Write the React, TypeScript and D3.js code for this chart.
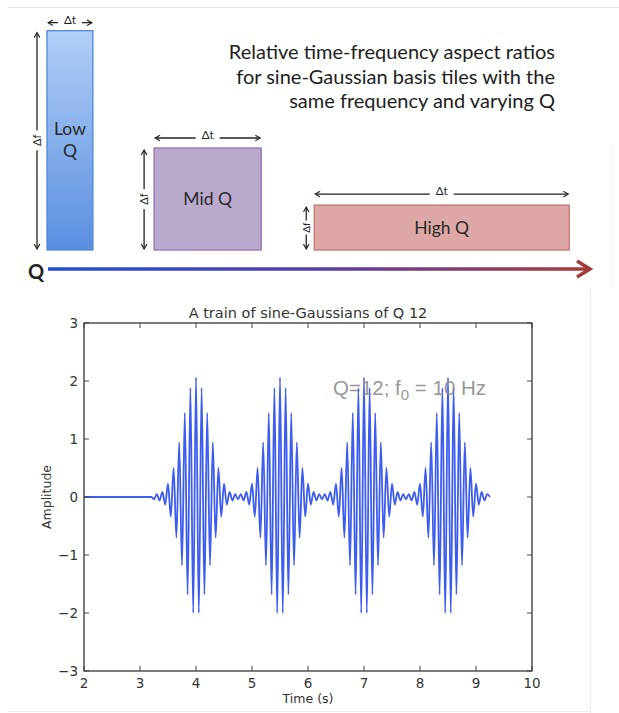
import * as d3 from 'd3';

// top schematic: three tiles with same area, different shape
const tileLabels = [['Low', 'Q'], ['Mid Q'], ['High Q']];
const tileStart = [0, 1.05, 2.62];
const tileDt = [0.45, 1.05, 2.5];
const tileDf = [2.15, 1.0, 0.44];
const tileFill = ['url(#lowGrad)', '#b9a9cd', '#dca7a5'];
const tileStroke = ['#4f86dc', '#9570b0', '#c27470'];

const headerLines = [
  'Relative time-frequency aspect ratios',
  'for sine-Gaussian basis tiles with the',
  'same frequency and varying Q',
];

// bottom plot: one burst (extremum per half cycle), repeated at each centre
const burstCenters = [4.0, 5.5, 7.0, 8.5];
const halfCycleOffsets = [
  -0.75, -0.7, -0.65, -0.6, -0.55, -0.5, -0.45, -0.4, -0.35, -0.3, -0.25, -0.2, -0.15, -0.1, -0.05,
  0, 0.05, 0.1, 0.15, 0.2, 0.25, 0.3, 0.35, 0.4, 0.45, 0.5, 0.55, 0.6, 0.65, 0.7,
];
const burstPeaks = [
  -0.04, 0.05, -0.06, 0.09, -0.13, 0.23, -0.34, 0.5, -0.7, 0.94, -1.18, 1.45, -1.68, 1.88, -2.0,
  2.06, -2.0, 1.88, -1.68, 1.45, -1.18, 0.94, -0.7, 0.5, -0.34, 0.23, -0.13, 0.09, -0.06, 0.05,
];
const leadIn = [{ t: 2.0, v: 0 }, { t: 3.2, v: 0 }];
const tailOut = [{ t: 9.25, v: 0 }];

const xTicks = [2, 3, 4, 5, 6, 7, 8, 9, 10];
const yTicks = [-3, -2, -1, 0, 1, 2, 3];

const W = 619;
const H = 713;
const calibri = 'Lato, "Open Sans", sans-serif';
const mpl = '"DejaVu Sans", sans-serif';

function Arrow({ x1, y1, x2, y2 }: { x1: number; y1: number; x2: number; y2: number }) {
  return (
    <line x1={x1} y1={y1} x2={x2} y2={y2} stroke="#222" strokeWidth={1.3}
      markerStart="url(#chev)" markerEnd="url(#chev)" />
  );
}

function Schematic() {
  const u = d3.scaleLinear().domain([0, 1]).range([47, 149]);
  const px = (d: number) => u(d) - u(0);
  const base = 250;
  const dtGap = [8, 10, 11];

  return (
    <g>
      {tileLabels.map((lab, i) => {
        const x0 = u(tileStart[i]);
        const w = px(tileDt[i]);
        const h = px(tileDf[i]);
        const top = base - h;
        const cx = x0 + w / 2;
        const small = i === 2;
        const ay = top - dtGap[i];
        return (
          <g key={i}>
            <rect x={x0} y={top} width={w} height={h} fill={tileFill[i]} stroke={tileStroke[i]} strokeWidth={1.3} />
            {lab.map((s, j) => (
              <text key={j} x={cx} y={top + h / 2 + (j - (lab.length - 1) / 2) * 22 + 6}
                textAnchor="middle" fontFamily={calibri} fontSize={17.5} fill="#2a2a2a">{s}</text>
            ))}
            {/* Δt arrow above */}
            <Arrow x1={x0 + 1} y1={ay} x2={x0 + w - 1} y2={ay} />
            <rect x={cx - 12} y={ay - 8} width={24} height={14} fill="#fff" />
            <text x={cx} y={ay + 1} textAnchor="middle" fontFamily={calibri} fontSize={11.5} fill="#222">Δt</text>
            {/* Δf arrow left */}
            <Arrow x1={x0 - (small ? 8 : 10)} y1={top + 2} x2={x0 - (small ? 8 : 10)} y2={base - 1} />
            <rect x={x0 - (small ? 14 : 17)} y={top + h / 2 - (small ? 7 : 10)} width={small ? 12 : 14}
              height={small ? 14 : 20} fill="#fff" />
            <text transform={`translate(${x0 - (small ? 4.5 : 6)},${top + h / 2}) rotate(-90)`}
              textAnchor="middle" fontFamily={calibri} fontSize={small ? 10 : 11} fill="#222">Δf</text>
          </g>
        );
      })}

      {headerLines.map((s, i) => (
        <text key={i} x={555} y={59 + i * 24.5} textAnchor="end" fontFamily={calibri} fontSize={20} fill="#1e1e1e">{s}</text>
      ))}

      {/* Q axis */}
      <text x={36} y={279} textAnchor="middle" fontFamily={calibri} fontWeight={700} fontSize={20} fill="#222">Q</text>
      <line x1={48} y1={269} x2={588} y2={269} stroke="url(#qGrad)" strokeWidth={3.5} />
      <path d="M577,261 L590,269 L577,277" fill="none" stroke="#a33a3a" strokeWidth={3.5} />
    </g>
  );
}

function TrainPlot() {
  const x = d3.scaleLinear().domain([2, 10]).range([84, 532]);
  const y = d3.scaleLinear().domain([-3, 3]).range([671, 323]);

  const pts = [
    ...leadIn,
    ...burstCenters.flatMap((c) => halfCycleOffsets.map((o, k) => ({ t: c + o, v: burstPeaks[k] }))),
    ...tailOut,
  ];
  const line = d3.line<{ t: number; v: number }>()
    .x((d) => x(d.t)).y((d) => y(d.v))
    .curve(d3.curveMonotoneX);

  const [x0, x1] = x.range();
  const [yb, yt] = y.range();
  const tl = 5;

  return (
    <g>
      <text x={(x0 + x1) / 2} y={318} textAnchor="middle" fontFamily={mpl} fontSize={14.5} fill="#333">
        A train of sine-Gaussians of Q 12
      </text>

      <path d={line(pts) ?? ''} fill="none" stroke="#3d5cf0" strokeWidth={1.8} />

      <text x={333} y={395} fontFamily='"Liberation Sans", Arial, sans-serif' fontSize={20.5} fill="#8a8a8a"
        fillOpacity={0.9}>
        Q=12; f<tspan fontSize={15} dy={5}>0</tspan><tspan dy={-5}> = 10 Hz</tspan>
      </text>

      <rect x={x0} y={yt} width={x1 - x0} height={yb - yt} fill="none" stroke="#444" strokeWidth={1.4} />

      {xTicks.map((t) => (
        <g key={`x${t}`}>
          <line x1={x(t)} x2={x(t)} y1={yb} y2={yb - tl} stroke="#444" />
          <line x1={x(t)} x2={x(t)} y1={yt} y2={yt + tl} stroke="#444" />
          <text x={x(t)} y={688} textAnchor="middle" fontFamily={mpl} fontSize={13.5} fill="#333">{t}</text>
        </g>
      ))}
      {yTicks.map((t) => (
        <g key={`y${t}`}>
          <line x1={x0} x2={x0 + tl} y1={y(t)} y2={y(t)} stroke="#444" />
          <line x1={x1} x2={x1 - tl} y1={y(t)} y2={y(t)} stroke="#444" />
          <text x={78} y={y(t) + 5} textAnchor="end" fontFamily={mpl} fontSize={13.5} fill="#333">
            {t < 0 ? `\u2212${-t}` : t}
          </text>
        </g>
      ))}

      <text x={(x0 + x1) / 2} y={703} textAnchor="middle" fontFamily={mpl} fontSize={12.5} fill="#333">Time (s)</text>
      <text transform={`translate(51,${y(0)}) rotate(-90)`} textAnchor="middle" fontFamily={mpl} fontSize={12.5}
        fill="#333">Amplitude</text>
    </g>
  );
}

export default function App() {
  return (
    <div style={{ position: 'absolute', left: 0, top: 0 }}>
      <svg width={W} height={H} style={{ display: 'block', background: '#fff' }}>
        <defs>
          <linearGradient id="lowGrad" x1="0" y1="0" x2="0" y2="1">
            <stop offset="0%" stopColor="#b1cff7" />
            <stop offset="100%" stopColor="#5a8fe0" />
          </linearGradient>
          <linearGradient id="qGrad" x1="48" y1="0" x2="588" y2="0" gradientUnits="userSpaceOnUse">
            <stop offset="0%" stopColor="#1d4fd8" />
            <stop offset="50%" stopColor="#5a3da6" />
            <stop offset="100%" stopColor="#a83a3a" />
          </linearGradient>
          <marker id="chev" viewBox="0 0 10 10" refX={8} refY={5} markerWidth={7} markerHeight={7}
            orient="auto-start-reverse" markerUnits="userSpaceOnUse">
            <path d="M1,1 L8,5 L1,9" fill="none" stroke="#222" strokeWidth={1.6} />
          </marker>
        </defs>

        {/* faint frame lines from the composite image */}
        <line x1={8} x2={W} y1={7.5} y2={7.5} stroke="#e6e6e6" />
        <line x1={590.5} x2={590.5} y1={288} y2={H} stroke="#ececec" />
        <line x1={611.5} x2={611.5} y1={145} y2={288} stroke="#f3f3f3" />
        <line x1={8} x2={590} y1={711.5} y2={711.5} stroke="#eeeeee" />

        <Schematic />
        <TrainPlot />
      </svg>
    </div>
  );
}
